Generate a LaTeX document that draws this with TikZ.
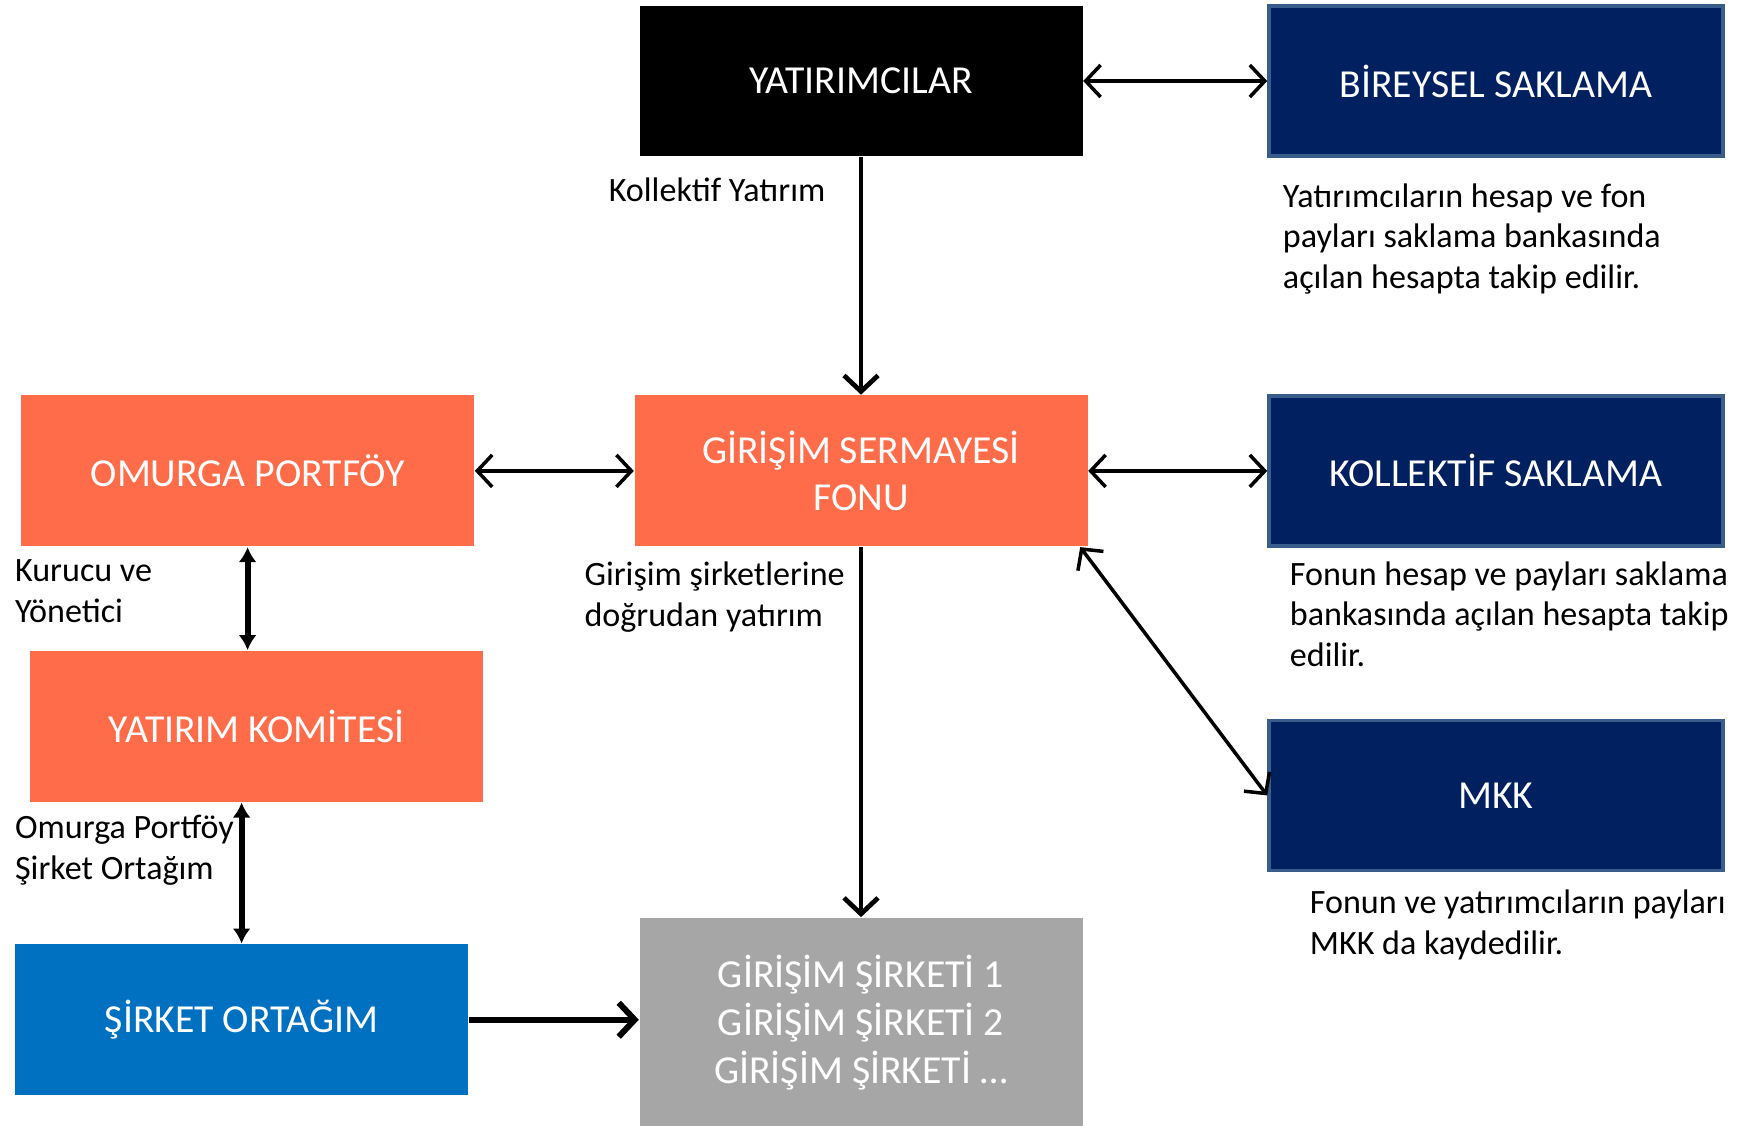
\documentclass[tikz,border=0pt]{standalone}
\usepackage{fontspec}
\setmainfont{Carlito}
\usepackage{tikz}
\usetikzlibrary{arrows.meta,positioning}

\definecolor{fonorange}{RGB}{255,108,74}
\definecolor{saklamanavy}{RGB}{0,32,96}
\definecolor{saklamaedge}{RGB}{56,93,138}
\definecolor{ortakblue}{RGB}{0,112,192}
\definecolor{sirketgrey}{RGB}{166,166,166}

\newcommand{\boxfont}{\fontsize{11.3}{13.6}\selectfont}
\newcommand{\notefont}{\fontsize{9.7}{11.6}\selectfont}

\begin{document}
\begin{tikzpicture}
	[ node distance=1.5cm and 1.8cm,
		construct/.style={rectangle,text=white,align=center,font=\boxfont,inner sep=0pt,
			minimum width=4.53cm,minimum height=1.51cm},
		darkbox/.style={construct,fill=black,minimum width=4.43cm,minimum height=1.5cm},
		orangebox/.style={construct,fill=fonorange},
		navybox/.style={construct,fill=saklamanavy,draw=saklamaedge,line width=1pt,
			minimum width=4.54cm,minimum height=1.50cm},
		bluebox/.style={construct,fill=ortakblue},
		greybox/.style={construct,fill=sirketgrey,minimum width=4.43cm,minimum height=2.1cm},
		note/.style={align=left,inner sep=0pt,font=\notefont},
		arrowBoth/.style={<->,>={Straight Barb[length=1.5mm,width=3.2mm]},line width=1pt},
		arrowOut/.style={->,>={Straight Barb[length=1.6mm,width=3.4mm]},line width=1.35pt},
		arrowFat/.style={<->,>={Latex[length=1.5mm,width=1.8mm]},line width=1.7pt}]

	\useasboundingbox (0,0) rectangle (17.5,-11.25);

	% top row
	\node[darkbox] (yatirimci) at (8.61,-0.81) {YATIRIMCILAR};
	\node[navybox] (bireysel) [right=1.84cm of yatirimci] {BİREYSEL SAKLAMA};

	% middle row
	\node[orangebox] (fon) [below=2.38cm of yatirimci] {GİRİŞİM SERMAYESİ\\FONU};
	\node[orangebox] (omurga) [left=1.59cm of fon] {OMURGA PORTFÖY};
	\node[navybox] (kollektif) [right=1.79cm of fon] {KOLLEKTİF SAKLAMA};
	\node[navybox] (mkk) [below=1.71cm of kollektif] {MKK};

	% left column
	\node[orangebox] (komite) [below=1.03cm of omurga,xshift=0.09cm] {YATIRIM KOMİTESİ};
	\node[bluebox] (ortagim) [below=1.41cm of komite,xshift=-0.15cm] {ŞİRKET ORTAĞIM};

	% bottom
	\node[greybox] (sirketler) [below=3.70cm of fon] {GİRİŞİM ŞİRKETİ 1\\GİRİŞİM ŞİRKETİ 2\\GİRİŞİM ŞİRKETİ \dots};

	% notes
	\node[note] (kollektif yatirim) [below left=0.2cm and 0.35cm of yatirimci.south] {Kollektif Yatırım};
	\node[note] (bireysel not) [below=0.25cm of bireysel.south west,anchor=north west,xshift=0.15cm]
		{Yatırımcıların hesap ve fon\\payları saklama bankasında\\açılan hesapta takip edilir.};
	\node[note] (kollektif not) [below=0.13cm of kollektif.south west,anchor=north west,xshift=0.22cm]
		{Fonun hesap ve payları saklama\\bankasında açılan hesapta takip\\edilir.};
	\node[note] (mkk not) [below=0.17cm of mkk.south west,anchor=north west,xshift=0.42cm]
		{Fonun ve yatırımcıların payları\\MKK da kaydedilir.};
	\node[note] (dogrudan) [below=0.14cm of fon.south west,anchor=north west,xshift=-0.5cm]
		{Girişim şirketlerine\\doğrudan yatırım};
	\node[note] (kurucu) [below=0.12cm of omurga.south west,anchor=north west,xshift=-0.06cm]
		{Kurucu ve\\Yönetici};
	\node[note] (ortak not) [below=0.12cm of komite.south west,anchor=north west,xshift=-0.15cm]
		{Omurga Portföy\\Şirket Ortağım};

	% connectors
	\draw[arrowBoth] (yatirimci.east) -- (bireysel.west);
	\draw[arrowBoth] (omurga.east) -- (fon.west);
	\draw[arrowBoth] (fon.east) -- (kollektif.west);
	\draw[arrowBoth] ([xshift=-0.08cm] fon.south east) -- (mkk.west);
	\draw[arrowOut] (yatirimci.south) -- (fon.north);
	\draw[arrowOut] (fon.south) -- (sirketler.north);
	\draw[arrowFat] (omurga.south) -- (omurga.south |- komite.north);
	\draw[arrowFat] (ortagim.north |- komite.south) -- (ortagim.north);
	\draw[arrowOut,line width=1.7pt] (ortagim.east) -- (ortagim.east -| sirketler.west);
\end{tikzpicture}
\end{document}
